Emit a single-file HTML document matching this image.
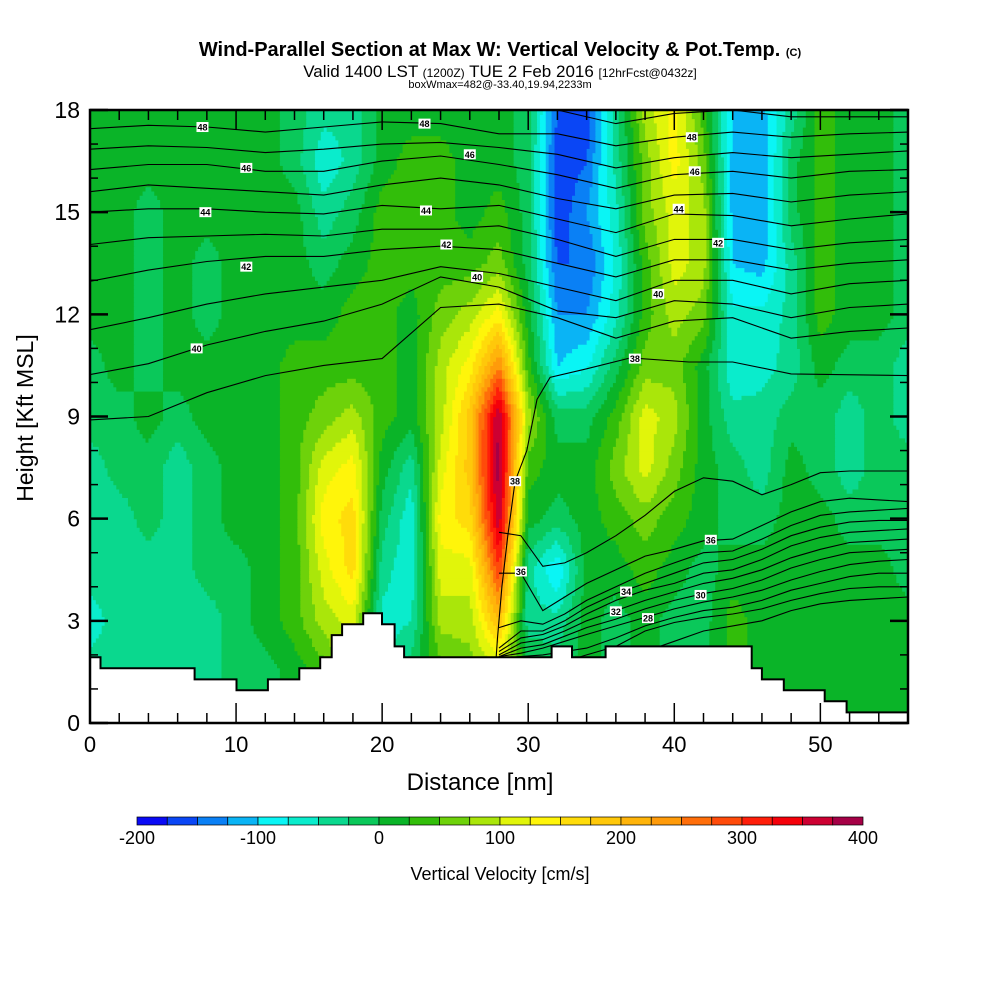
<!DOCTYPE html>
<html><head><meta charset="utf-8"><style>
body{margin:0;background:#fff;}
#wrap{position:relative;width:1000px;height:1000px;background:#fff;font-family:"Liberation Sans",Arial,sans-serif;}
</style></head><body>
<div id="wrap">
<svg id="svg" width="1000" height="1000" xmlns="http://www.w3.org/2000/svg" font-family="Liberation Sans, Arial, sans-serif">
<text x="500" y="56" text-anchor="middle" font-size="20" font-weight="bold">Wind-Parallel Section at Max W: Vertical Velocity &amp; Pot.Temp. <tspan font-size="11">(C)</tspan></text>
<text x="500" y="77" text-anchor="middle" font-size="17">Valid 1400 LST <tspan font-size="12">(1200Z)</tspan> TUE 2 Feb 2016 <tspan font-size="12">[12hrFcst@0432z]</tspan></text>
<text x="500" y="88" text-anchor="middle" font-size="11">boxWmax=482@-33.40,19.94,2233m</text>
<defs><clipPath id="pc"><rect x="90" y="110" width="818" height="613"/></clipPath></defs>
<g id="field" clip-path="url(#pc)"></g>
<g id="contours" clip-path="url(#pc)"></g>
<g id="terrain" clip-path="url(#pc)"></g>
<g id="labels"></g>
<g id="axes"></g>
<g id="cbar"></g>
<text x="480" y="790" text-anchor="middle" font-size="24">Distance [nm]</text>
<text transform="translate(33,418) rotate(-90)" text-anchor="middle" font-size="23">Height [Kft MSL]</text>
<text x="500" y="880" text-anchor="middle" font-size="18">Vertical Velocity [cm/s]</text>
</svg>
</div>
<script>
// grid: columns x = 0,2,...,56 nm ; rows z = 0,1.5,...,18 kft
const gridX = [0,2,4,6,8,10,12,14,16,18,20,22,24,26,28,30,32,34,36,38,40,42,44,46,48,50,52,54,56];
const gridZ = [0,1.5,3,4.5,6,7.5,9,10.5,12,13.5,15,16.5,18];
const wColumns = [
[-40,-40,-60,-40,-40,-40,-12,-12,12,12,12,12,12],
[-40,-40,-40,-40,-40,-12,-12,12,12,12,12,12,12],
[-40,-40,-40,-40,-12,-12,12,-12,-12,-12,-12,12,12],
[-40,-40,-40,-40,-40,-40,-12,12,12,12,12,12,12],
[-40,-40,-40,-12,-12,-12,12,12,-12,-12,12,12,12],
[-12,-12,-12,-12,12,12,12,12,12,12,12,12,12],
[-12,-12,12,12,12,12,12,12,12,12,12,12,12],
[12,12,37,37,37,37,37,37,12,12,12,-12,-12],
[37,37,87,112,137,112,62,37,12,-12,-40,-70,-40],
[112,112,112,162,162,137,87,37,37,12,-12,-40,-40],
[-60,-60,-60,-40,-12,12,37,37,37,37,37,12,12],
[-12,-12,-50,-70,-70,-40,12,12,12,37,37,37,12],
[37,37,87,112,137,112,87,87,62,37,37,37,12],
[62,62,87,112,162,187,187,137,87,37,12,12,12],
[87,87,200,300,370,390,380,250,137,62,37,12,12],
[12,12,-40,-40,12,37,87,37,12,-12,-12,-12,-12],
[-12,-12,-40,-100,-12,12,-12,-100,-125,-150,-170,-170,-150],
[12,12,12,12,12,12,-12,-80,-125,-150,-125,-150,-170],
[-12,-12,-12,12,37,62,37,-12,-60,-70,-60,-40,-40],
[12,12,12,37,62,112,112,62,37,37,62,62,87],
[-12,-12,-12,12,37,62,87,62,87,112,112,137,137],
[-12,-12,-12,-12,12,12,12,12,62,87,87,62,37],
[37,37,37,12,-12,-12,-40,-70,-70,-100,-110,-110,-100],
[12,12,12,12,-12,-40,-40,-60,-70,-110,-125,-125,-110],
[12,12,12,12,12,12,-12,-40,-40,-40,-12,-12,-40],
[12,12,12,12,12,-12,-12,12,37,37,37,37,37],
[12,12,12,12,-12,-40,-40,-12,12,12,12,12,12],
[12,12,12,12,-12,-12,-12,-12,12,12,12,12,12],
[12,12,12,-12,-12,-12,-40,-40,-12,-12,-12,-12,-12]
];
const levelColors = ['#0a0af5','#0a46f5','#0a80f5','#0ab4f5','#0af5f5','#0aeccc','#0ad88e','#0ac85a','#0ab428','#32be0a','#6ed20a','#aae60a','#e1f50a','#fff50a','#ffdc0a','#ffc80a','#ffb40a','#ff9b0a','#ff6e0a','#ff4b0a','#ff1e0a','#f5000a','#cd0032','#a50046'];
const cbarLabels = ['-200','-100','0','100','200','300','400'];
const xTickLabels = ['0','10','20','30','40','50'];
const yTickLabels = ['0','3','6','9','12','15','18'];
const terrainEdges = [0,0.72,7.16,10.03,12.18,14.33,15.76,16.55,17.26,18.7,19.99,20.85,21.5,31.6,33.0,35.3,45.3,46.0,47.5,50.3,51.8,56];
const terrainHeights = [1.93,1.61,1.28,0.96,1.28,1.61,1.93,2.58,2.9,3.22,2.9,2.25,1.93,2.25,1.93,2.25,1.61,1.28,0.96,0.64,0.31];
const upperX = [0,4,8,12,16,20,24,28,32,36,40,44,48,52,56];
const upperLines = [
[18.3,18.3,18.3,18.2,18.2,18.3,18.3,18.1,18.0,17.6,17.9,18.0,17.8,17.8,17.8],
[17.45,17.55,17.5,17.35,17.5,17.65,17.6,17.3,17.3,16.95,17.2,17.35,17.2,17.3,17.35],
[16.85,16.95,16.9,16.75,16.85,17.0,17.05,16.9,16.7,16.3,16.6,16.75,16.6,16.7,16.8],
[16.25,16.4,16.4,16.2,16.2,16.5,16.65,16.4,16.1,15.7,16.1,16.2,16.0,16.2,16.25],
[15.6,15.8,15.7,15.6,15.5,15.8,16.0,15.8,15.4,15.1,15.5,15.55,15.3,15.5,15.6],
[15.0,15.1,15.1,15.0,14.95,15.2,15.1,15.2,14.8,14.4,14.95,14.9,14.6,14.8,14.95],
[14.05,14.25,14.3,14.35,14.3,14.5,14.5,14.6,14.2,13.7,14.2,14.2,13.9,14.1,14.2],
[12.97,13.3,13.55,13.7,13.7,13.9,14.0,13.9,13.5,13.1,13.6,13.6,13.3,13.5,13.6],
[11.55,11.9,12.3,12.6,12.8,13.0,13.4,13.2,12.8,12.4,13.0,13.0,12.6,12.9,13.0],
[10.23,10.55,11.1,11.5,11.8,12.3,13.1,12.8,12.1,11.9,12.4,12.3,11.9,12.2,12.3],
[8.9,9.0,9.7,10.2,10.5,10.7,12.2,12.3,11.9,11.3,11.8,11.9,11.3,11.5,11.6]
];
const line38X = [56,48,44,41,37,34,31.5,30.6,29.9,29.1,28.6,28.2,27.9,27.8];
const line38Z = [10.2,10.25,10.6,10.6,10.72,10.4,10.15,9.5,8,7.1,5.5,4,2.5,1.9];
const lowerX = [28.0,29.5,31,32.5,34,36,38,40,42,44,46,48,50,52,54,56];
const lowerLines = [
[5.6,5.5,4.6,4.7,5.0,5.5,6.1,6.8,7.2,7.1,6.7,7.0,7.35,7.4,7.4,7.4],
[4.4,4.4,3.3,3.7,4.1,4.5,4.9,5.1,5.35,5.4,5.8,6.2,6.5,6.6,6.55,6.5],
[2.8,3.0,2.9,3.2,3.6,4.0,4.4,4.7,5.0,5.05,5.4,5.8,6.1,6.2,6.25,6.3],
[2.2,2.7,2.7,3.0,3.4,3.8,4.1,4.4,4.7,4.8,5.1,5.5,5.75,5.9,5.95,5.95],
[2.1,2.5,2.6,2.85,3.2,3.6,3.9,4.1,4.4,4.5,4.8,5.2,5.45,5.6,5.65,5.7],
[2.0,2.35,2.45,2.7,3.0,3.3,3.6,3.85,4.1,4.25,4.5,4.85,5.1,5.3,5.35,5.4],
[1.95,2.2,2.3,2.55,2.8,3.05,3.35,3.6,3.8,3.95,4.2,4.55,4.8,5.0,5.05,5.1],
[1.95,2.05,2.2,2.4,2.6,2.85,3.1,3.35,3.55,3.7,3.9,4.2,4.45,4.65,4.75,4.8],
[1.9,1.95,2.0,2.1,2.2,2.5,2.85,3.1,3.3,3.4,3.6,3.9,4.1,4.3,4.4,4.4],
[1.5,1.5,1.6,1.8,2.0,2.25,2.7,2.95,3.1,3.2,3.35,3.6,3.8,3.95,4.0,4.0],
[1.2,1.2,1.3,1.5,1.7,1.9,2.1,2.4,2.7,2.85,3.0,3.3,3.5,3.6,3.65,3.7]
];
const labelText = ['48','48','46','46','44','44','42','42','40','40','48','46','44','42','40','38','38','36','36','34','32','30','28'];
const labelX = [7.7,22.9,26,10.7,7.9,23,24.4,10.7,26.5,7.3,41.2,41.4,40.3,43,38.9,37.3,29.1,29.5,42.5,36.7,36,41.8,38.2];
const labelZ = [17.5,17.6,16.7,16.3,15.0,15.05,14.05,13.4,13.1,11.0,17.2,16.2,15.1,14.1,12.6,10.7,7.1,4.45,5.38,3.86,3.28,3.76,3.08];

const NS='http://www.w3.org/2000/svg';
const X0=90,X1=908,Y0=723,Y1=110;
const xPx = nm => X0 + nm*(X1-X0)/56;
const yPx = z => Y0 - z*(Y0-Y1)/18;
function mk(tag,attrs,parent){const e=document.createElementNS(NS,tag);for(const k in attrs)e.setAttribute(k,attrs[k]);parent.appendChild(e);return e;}
function wAt(x,z){
  let i=Math.min(gridX.length-2,Math.max(0,Math.floor(x/2)));
  let fx=(x-gridX[i])/(gridX[i+1]-gridX[i]);
  let j=Math.min(gridZ.length-2,Math.max(0,Math.floor(z/1.5)));
  let fz=(z-gridZ[j])/(gridZ[j+1]-gridZ[j]);
  const a=wColumns[i][j],b=wColumns[i+1][j],c=wColumns[i][j+1],d=wColumns[i+1][j+1];
  return (a*(1-fx)+b*fx)*(1-fz)+(c*(1-fx)+d*fx)*fz;
}
function lvl(w){return Math.max(0,Math.min(23,Math.floor((w+200)/25)));}
// field
const field=document.getElementById('field');
const DX=0.2,DZ=0.125;
for(let zj=0;zj<18/DZ;zj++){
  const z=(zj+0.5)*DZ;
  let runStart=0,runL=lvl(wAt(DX/2,z));
  const nx=Math.round(56/DX);
  for(let xi=1;xi<=nx;xi++){
    const L= xi<nx ? lvl(wAt((xi+0.5)*DX,z)) : -1;
    if(L!==runL){
      const r=mk('rect',{x:xPx(runStart*DX).toFixed(2),y:yPx((zj+1)*DZ).toFixed(2),width:(xPx(xi*DX)-xPx(runStart*DX)+0.6).toFixed(2),height:(yPx(0)-yPx(DZ)+0.6).toFixed(2),fill:levelColors[runL]},field);
      
      
      runStart=xi;runL=L;
    }
  }
}
// contours
const cg=document.getElementById('contours');
function poly(xs,zs){let d='';for(let k=0;k<xs.length;k++){d+=(k?'L':'M')+xPx(xs[k]).toFixed(1)+' '+yPx(zs[k]).toFixed(1);}return d;}
upperLines.forEach(zs=>{const p=mk('path',{d:poly(upperX,zs),fill:'none',stroke:'#000','stroke-width':1.1},cg);

});
lowerLines.forEach(zs=>{const p=mk('path',{d:poly(lowerX,zs),fill:'none',stroke:'#000','stroke-width':1.1},cg);

});
{const p=mk('path',{d:poly(line38X,line38Z),fill:'none',stroke:'#000','stroke-width':1.1},cg);

}
// terrain
const tg=document.getElementById('terrain');
let td='M'+xPx(0)+' '+(Y0+2);
let outline='';
for(let k=0;k<terrainHeights.length;k++){
  const xa=xPx(terrainEdges[k]),xb=xPx(terrainEdges[k+1]),y=yPx(terrainHeights[k]);
  td+='L'+xa.toFixed(1)+' '+y.toFixed(1)+'L'+xb.toFixed(1)+' '+y.toFixed(1);
  outline+=(k?'L':'M')+xa.toFixed(1)+' '+y.toFixed(1)+'L'+xb.toFixed(1)+' '+y.toFixed(1);
}
td+='L'+X1+' '+(Y0+2)+'Z';
{const p=mk('path',{d:td,fill:'#fff',stroke:'none'},tg);


const o=mk('path',{d:outline,fill:'none',stroke:'#000','stroke-width':2},tg);

}
// contour labels
const lg=document.getElementById('labels');
labelText.forEach((t,k)=>{
  const x=xPx(labelX[k]),y=yPx(labelZ[k]);
  const r=mk('rect',{x:x-6,y:y-5,width:12,height:10,fill:'#fff'},lg);
  
  
  const tx=mk('text',{x:x,y:y+3.5,'text-anchor':'middle','font-size':9,'font-weight':'bold'},lg);
  tx.textContent=t;
  
  
});
// axes
const ag=document.getElementById('axes');
{const f=mk('rect',{x:X0,y:Y1,width:X1-X0,height:Y0-Y1,fill:'none',stroke:'#000','stroke-width':2.5},ag);

}
for(let nm=0;nm<=56;nm+=2){
  const x=xPx(nm),L=(nm%10===0)?20:10;
  const t1=mk('line',{x1:x,y1:Y0,x2:x,y2:Y0-L,stroke:'#000','stroke-width':1.5},ag);
  
  
  const t2=mk('line',{x1:x,y1:Y1,x2:x,y2:Y1+L,stroke:'#000','stroke-width':1.5},ag);
  
  
}
xTickLabels.forEach((t,k)=>{const tx=mk('text',{x:xPx(k*10),y:752,'text-anchor':'middle','font-size':22},ag);tx.textContent=t;

});
for(let z=0;z<=18;z++){
  const y=yPx(z),L=(z%3===0)?18:8;
  const t1=mk('line',{x1:X0,y1:y,x2:X0+L,y2:y,stroke:'#000','stroke-width':(z%3===0)?2.5:1.5},ag);
  
  
  const t2=mk('line',{x1:X1,y1:y,x2:X1-L,y2:y,stroke:'#000','stroke-width':(z%3===0)?2.5:1.5},ag);
  
  
}
yTickLabels.forEach((t,k)=>{const tx=mk('text',{x:80,y:yPx(k*3)+8,'text-anchor':'end','font-size':23},ag);tx.textContent=t;

});
// colorbar
const cb=document.getElementById('cbar');
const CB0=137,CB1=863,cw=(CB1-CB0)/levelColors.length;
levelColors.forEach((c,k)=>{const r=mk('rect',{x:CB0+k*cw,y:817,width:cw,height:8,fill:c,stroke:'#000','stroke-width':0.7},cb);

});
cbarLabels.forEach((t,k)=>{const tx=mk('text',{x:CB0+k*(CB1-CB0)/6,y:844,'text-anchor':'middle','font-size':18},cb);tx.textContent=t;

});
</script>
</body></html>
